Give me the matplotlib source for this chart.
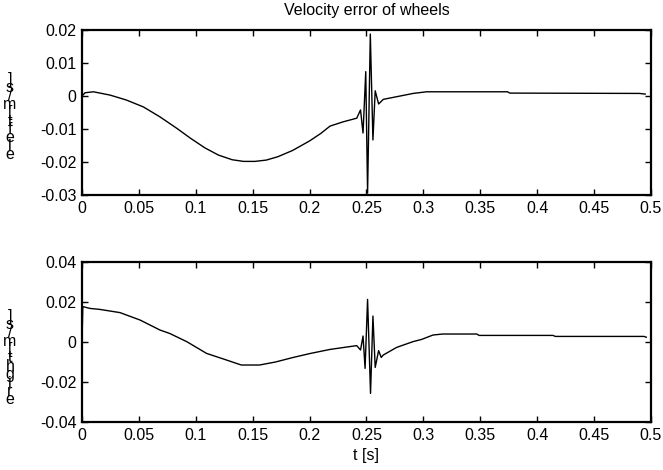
import matplotlib
matplotlib.use("Agg")
import matplotlib.pyplot as plt
import numpy as np

plt.rcParams['font.family'] = ['Liberation Sans', 'DejaVu Sans']

# Top: left wheel velocity error
t_left = [0.0, 0.0026, 0.010, 0.0246, 0.039, 0.054, 0.0685, 0.083, 0.095, 0.108, 0.120,
          0.132, 0.142, 0.152, 0.162, 0.172, 0.185, 0.200, 0.210, 0.218, 0.2296, 0.2415,
          0.2448, 0.247, 0.2494, 0.251, 0.2534, 0.2557, 0.2577, 0.2607, 0.2648, 0.2765,
          0.291, 0.303, 0.374, 0.376, 0.490, 0.495]
e_left = [0.0, 0.0010, 0.0013, 0.0003, -0.0012, -0.0033, -0.0063, -0.0097, -0.0127, -0.0157,
          -0.0179, -0.0193, -0.0198, -0.0198, -0.0194, -0.0184, -0.0165, -0.0136, -0.0113,
          -0.0091, -0.0078, -0.0067, -0.0042, -0.0112, 0.0074, -0.0294, 0.0188, -0.0133,
          0.0016, -0.0024, -0.0010, -0.0002, 0.0008, 0.0013, 0.0013, 0.0009, 0.0008, 0.0006]

# Bottom: right wheel velocity error
t_right = [0.0, 0.0007, 0.007, 0.0158, 0.0334, 0.051, 0.0685, 0.077, 0.092, 0.1095, 0.127,
           0.140, 0.156, 0.170, 0.185, 0.200, 0.218, 0.2415, 0.2448, 0.247, 0.2488, 0.251,
           0.2536, 0.2557, 0.2577, 0.2607, 0.263, 0.2648, 0.2765, 0.291, 0.2985, 0.3085,
           0.317, 0.347, 0.349, 0.414, 0.416, 0.494, 0.496]
e_right = [0.0, 0.0177, 0.0168, 0.0163, 0.0147, 0.0110, 0.0060, 0.0043, 0.0002, -0.0057,
           -0.0090, -0.0115, -0.0115, -0.0100, -0.0078, -0.0058, -0.0037, -0.0018, -0.0040,
           0.0030, -0.0132, 0.0213, -0.0257, 0.0130, -0.0127, -0.0043, -0.0077, -0.0065,
           -0.0027, 0.0002, 0.0013, 0.0035, 0.0040, 0.0040, 0.0033, 0.0033, 0.0028, 0.0028,
           0.0024]

xticks = [0, 0.05, 0.1, 0.15, 0.2, 0.25, 0.3, 0.35, 0.4, 0.45, 0.5]
xtick_labels = ['0', '0.05', '0.1', '0.15', '0.2', '0.25', '0.3', '0.35', '0.4', '0.45', '0.5']
yticks_top = [0.02, 0.01, 0, -0.01, -0.02, -0.03]
ytick_labels_top = ['0.02', '0.01', '0', '-0.01', '-0.02', '-0.03']
yticks_bot = [0.04, 0.02, 0, -0.02, -0.04]
ytick_labels_bot = ['0.04', '0.02', '0', '-0.02', '-0.04']

FS = 11.5

fig = plt.figure(figsize=(6.63, 4.70), dpi=100)
ax1 = fig.add_axes([0.1237, 0.585, 0.858, 0.351])
ax2 = fig.add_axes([0.1237, 0.1021, 0.858, 0.3404])

for ax in (ax1, ax2):
    ax.set_xlim(0, 0.5)
    ax.set_xticks(xticks)
    ax.set_xticklabels(xtick_labels)
    ax.tick_params(direction='in', top=True, right=True, length=4, width=1,
                   labelsize=FS, pad=4)
    for s in ax.spines.values():
        s.set_linewidth(1.6)

ax1.plot(t_left, e_left, color='black', linewidth=1.0)
ax1.set_ylim(-0.03, 0.02)
ax1.set_yticks(yticks_top)
ax1.set_yticklabels(ytick_labels_top)
ax1.set_title('Velocity error of wheels', fontsize=FS, pad=11)

ax2.plot(t_right, e_right, color='black', linewidth=1.0)
ax2.set_ylim(-0.04, 0.04)
ax2.set_yticks(yticks_bot)
ax2.set_yticklabels(ytick_labels_bot)
ax2.set_xlabel('t [s]', fontsize=FS, labelpad=4)

label_left = "e_left [m/s]"
label_right = "e_right [m/s]"
def stacked(s):
    return "\n".join(reversed([c for c in s.replace('_', '') if c != ' ']))

fig.text(10/663, 1 - 117/470, stacked(label_left), ha='center', va='center',
         fontsize=FS, linespacing=0.45)
fig.text(10/663, 1 - 358/470, stacked(label_right), ha='center', va='center',
         fontsize=FS, linespacing=0.45)

fig.savefig('out.png', dpi=100)
